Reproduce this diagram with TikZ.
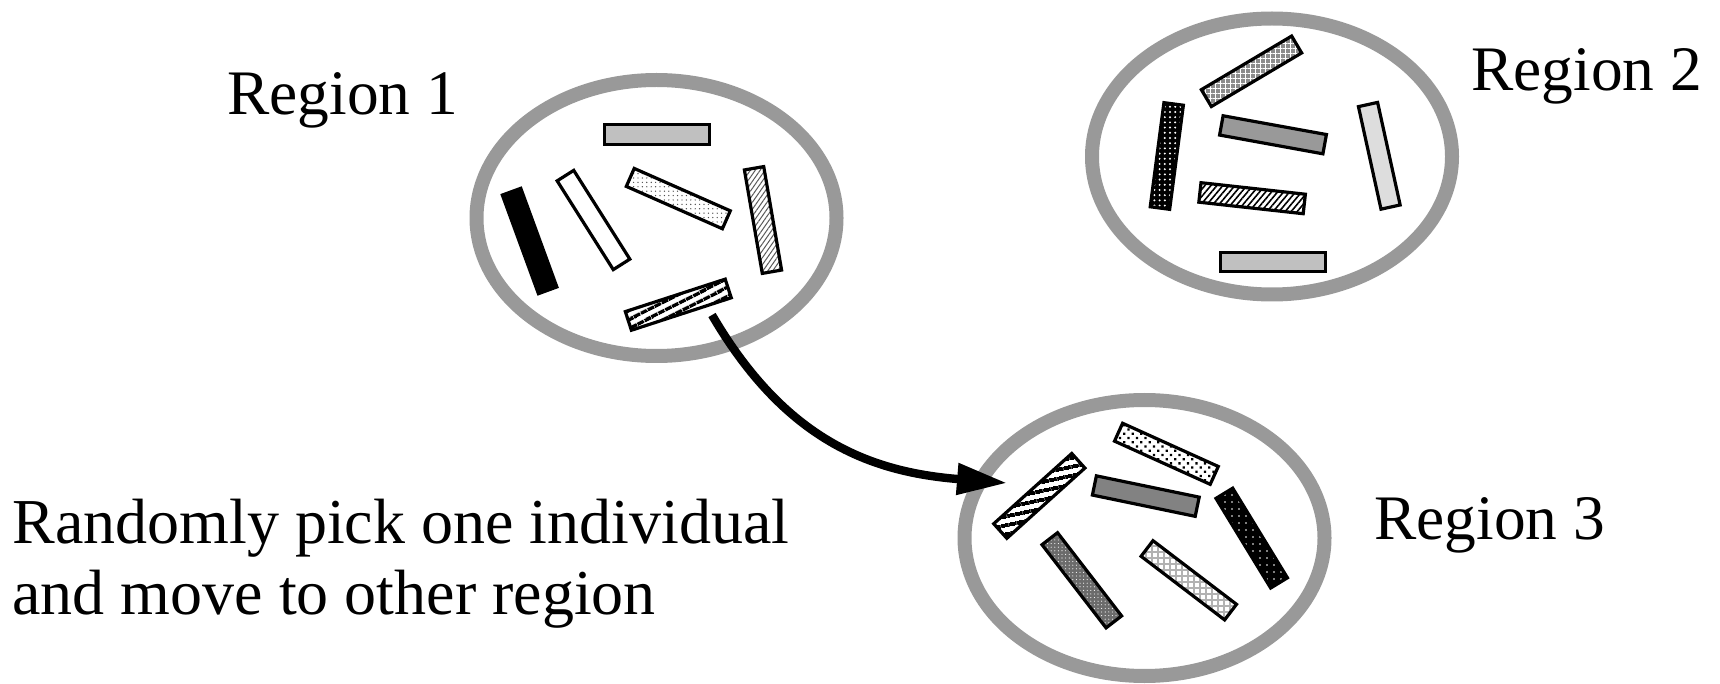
\documentclass[tikz,border=0pt]{standalone}
\usepackage{fontspec}
\setmainfont{Liberation Serif}
\usetikzlibrary{shapes.geometric,arrows.meta,patterns.meta}
\definecolor{ellgray}{RGB}{153,153,153}
\definecolor{lgray}{RGB}{192,192,192}
\definecolor{mgray}{RGB}{153,153,153}
\definecolor{vlgray}{RGB}{221,221,221}
\definecolor{dgray}{RGB}{130,130,130}
\tikzset{
  region/.style={ellipse, draw=ellgray, line width=7pt, minimum width=180pt, minimum height=138pt, inner sep=0pt},
  indiv/.style={rectangle, draw=black, line width=1.6pt, minimum width=52.5pt, minimum height=9.8pt, inner sep=0pt},
  bg/.style={preaction={fill=#1}},
  lbl/.style={inner sep=0pt, anchor=base west, font=\fontsize{31.7}{36}\selectfont},
  note/.style={inner sep=0pt, anchor=base west, font=\fontsize{32}{36}\selectfont},
  move/.style={line width=4.2pt, -{Triangle[length=25pt,width=15pt]}}
}
\begin{document}
\begin{tikzpicture}[x=0.5pt,y=0.5pt]
\useasboundingbox (0,0) rectangle (1720,-684);
% regions
\node[region] (e1) at (656.5,-218) {};
\node[region] (e2) at (1272,-156.5) {};
\node[region] (e3) at (1144.5,-538) {};
% region 1 individuals
\node[indiv, fill=lgray] (r1a) at (656.7,-134.7) {};
\node[indiv, fill=black, rotate=-69.9] (r1b) at (529.6,-241) {};
\node[indiv, fill=white, rotate=-57.7] (r1c) at (593.5,-220) {};
\node[indiv, bg=white, pattern={Dots[distance=2.2pt,radius=0.35pt]}, pattern color=gray!60!black, rotate=-23.8] (r1d) at (678.3,-198.6) {};
\node[indiv, bg=white, pattern={Lines[angle=55,distance=2pt,line width=0.5pt]}, pattern color=gray!70!black, rotate=-80.2] (r1e) at (763,-220) {};
\node[indiv, bg=white, pattern={Lines[angle=27,distance=4pt,line width=2pt]}, pattern color=black, rotate=18] (r1f) at (678.3,-304.7) {};
% region 2 individuals
\node[indiv, bg=black!45, pattern={Hatch[angle=0,distance=2.5pt,line width=0.5pt]}, pattern color=white, rotate=30.7] (r2a) at (1251.5,-71.3) {};
\node[indiv, bg=black, pattern={Dots[distance=2.6pt,radius=0.55pt]}, pattern color=white, rotate=82.5] (r2b) at (1166.8,-156) {};
\node[indiv, fill=mgray, rotate=-10.3] (r2c) at (1273,-134.8) {};
\node[indiv, bg=white, pattern={Lines[angle=50,distance=2.3pt,line width=0.8pt]}, pattern color=black, rotate=-6.3] (r2d) at (1252.1,-198.2) {};
\node[indiv, fill=vlgray, rotate=-77.6] (r2e) at (1379.3,-155.8) {};
\node[indiv, fill=lgray] (r2f) at (1273.3,-262) {};
% region 3 individuals
\node[indiv, bg=white, pattern={Dots[angle=45,distance=3pt,radius=0.8pt]}, pattern color=black, rotate=-24.3] (r3a) at (1166.4,-453.8) {};
\node[indiv, bg=white, pattern={Lines[angle=12,distance=4pt,line width=1.9pt]}, pattern color=black, rotate=42] (r3b) at (1039.3,-495.9) {};
\node[indiv, fill=dgray, rotate=-11.7] (r3c) at (1145.8,-496.1) {};
\node[indiv, bg=black, pattern={Dots[distance=3.5pt,radius=0.45pt]}, pattern color=white, rotate=-58.6] (r3d) at (1251.7,-538.1) {};
\node[indiv, bg=black!58, pattern={Dots[distance=1.8pt,radius=0.28pt]}, pattern color=white, rotate=-52.4] (r3e) at (1081.8,-580.3) {};
\node[indiv, bg=white, pattern={Hatch[distance=3pt,line width=0.8pt]}, pattern color=gray!60, rotate=-37.3] (r3f) at (1188.8,-580.3) {};
% labels
\node[lbl] (l1) at (227,-115) {Region 1};
\node[lbl] (l2) at (1471,-91) {Region 2};
\node[lbl] (l3) at (1374,-539) {Region 3};
\node[note] (n1) at (12,-543) {Randomly pick one individual};
\node[note] (n2) at (12,-614) {and move to other region};
% arrow
\coordinate (a0) at (712,-315);
\coordinate (a1) at (1007,-483);
\draw[move] (a0) .. controls (785,-440) and (870,-472) .. (a1);
\end{tikzpicture}
\end{document}
